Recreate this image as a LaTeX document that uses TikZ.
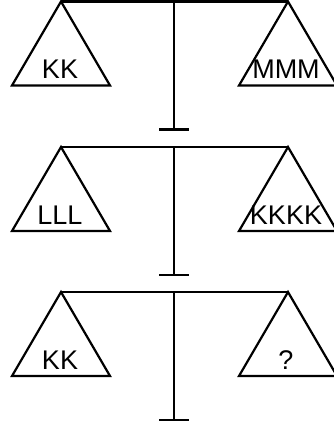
\documentclass[tikz,border=0pt]{standalone}
\usepackage{fontspec}
\setmainfont{Liberation Sans}
\begin{document}
\begin{tikzpicture}[x=1pt,y=-1pt,line width=2.2pt,
  pan/.style={draw,line join=miter},
  lbl/.style={font=\fontsize{27}{32}\selectfont,anchor=base,inner sep=0pt}]
\useasboundingbox (0,0) rectangle (333,429);
\foreach \i/\y/\l/\r in {1/1.5/KK/MMM,2/147/LLL/KKKK,3/292/KK/?}{
  \coordinate (L\i) at (61,\y);
  \coordinate (R\i) at (288,\y);
  \coordinate (P\i) at (174,\y);
  \coordinate (F\i) at (174,\y+128);
  \coordinate (FL\i) at (159,\y+128);
  \coordinate (FR\i) at (189,\y+128);
  \coordinate (LA\i) at (12,\y+84);
  \coordinate (LB\i) at (110,\y+84);
  \coordinate (RA\i) at (239,\y+84);
  \coordinate (RB\i) at (337,\y+84);
  \draw (L\i) -- (R\i);
  \draw (P\i) -- (F\i);
  \draw (FL\i) -- (FR\i);
  \draw[pan] (L\i) -- (LA\i) -- (LB\i) -- cycle;
  \draw[pan] (R\i) -- (RA\i) -- (RB\i) -- cycle;
  \node[lbl] (tl\i) at (60,\y+77) {\l};
  \node[lbl] (tr\i) at (286,\y+77) {\r};
}
\end{tikzpicture}
\end{document}
